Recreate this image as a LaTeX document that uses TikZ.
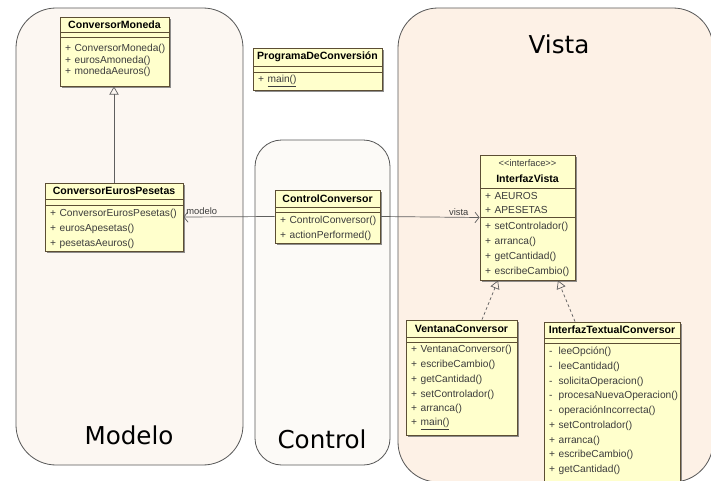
\documentclass[tikz,border=0pt]{standalone}
\usepackage{fontspec}
\setmainfont{Liberation Sans}
\newfontfamily\panelfont{DejaVu Sans}
\usetikzlibrary{arrows.meta,fit,shadows,calc}

\definecolor{clsfill}{RGB}{255,255,204}
\definecolor{clsdraw}{RGB}{92,78,52}
\definecolor{optext}{RGB}{60,60,60}
\definecolor{modfill}{RGB}{252,247,242}
\definecolor{ctlfill}{RGB}{252,250,247}
\definecolor{visfill}{RGB}{253,241,230}
\definecolor{lnk}{RGB}{95,95,95}

\tikzset{
  panel/.style={draw=black!65, line width=0.7pt},
  panellbl/.style={font=\panelfont\fontsize{21}{25}\selectfont, inner sep=0pt},
  cls/.style={draw=clsdraw, fill=clsfill, line width=0.8pt, inner sep=0pt,
    drop shadow={shadow xshift=1.8pt, shadow yshift=-1.8pt, fill=black!55, opacity=0.8}},
  clsline/.style={draw=clsdraw, line width=0.6pt},
  clsname/.style={font=\fontsize{9}{10}\selectfont\bfseries, inner sep=0pt},
  stereo/.style={font=\fontsize{8}{9}\selectfont, text=optext, inner sep=0pt},
  op/.style={font=\fontsize{8.7}{10}\selectfont, text=optext, anchor=west, inner sep=0pt},
  gen/.style={draw=lnk, line width=0.6pt, -{Triangle[open, length=7pt, width=8pt]}},
  real/.style={gen, dash pattern=on 2.5pt off 2pt},
  assoc/.style={draw=lnk, line width=0.6pt, -{Straight Barb[length=3.5pt, width=9pt]}},
  role/.style={font=\fontsize{8}{9}\selectfont, text=optext, inner sep=1.5pt},
}

\begin{document}
\begin{tikzpicture}[x=0.03cm, y=-0.03cm]
  \def\pubm{\makebox[8pt][l]{+}}
  \def\privm{\makebox[8pt][l]{-}}
  \useasboundingbox (0,0) rectangle (711,480);
  % paquetes
  \filldraw[panel, fill=modfill, rounded corners=1.2cm] (16,8) rectangle (243,465);
  \filldraw[panel, fill=ctlfill, rounded corners=0.8cm] (255,140) rectangle (390,465);
  \filldraw[panel, fill=visfill, rounded corners=1.2cm] (398,8) rectangle (713,482);
  \node[panellbl] (tmod) at (129,435) {Modelo};
  \node[panellbl] (tctl) at (322,439) {Control};
  \node[panellbl] (tvis) at (559,44) {Vista};

  % ConversorMoneda
  \node[cls, fit={(60,17) (169,86)}] (moneda) {};
  \draw[clsline] (60,32) -- (169,32) (60,37) -- (169,37);
  \node[clsname] (moneda-n) at (114.5,24.5) {ConversorMoneda};
  \foreach \m [count=\i] in {ConversorMoneda(), eurosAmoneda(), monedaAeuros()}
    \node[op] (moneda-\i) at (65,37+11.7*\i) {\pubm\m};

  % ProgramaDeConversión
  \node[cls, fit={(253,48) (382,90)}] (programa) {};
  \draw[clsline] (253,66) -- (382,66) (253,72) -- (382,72);
  \node[clsname] (programa-n) at (317.5,57) {ProgramaDeConversión};
  \node[op] (programa-1) at (258,81.5) {\pubm\underline{main()}};

  % ConversorEurosPesetas
  \node[cls, fit={(45,183) (183,251)}] (euros) {};
  \draw[clsline] (45,199) -- (183,199) (45,205) -- (183,205);
  \node[clsname] (euros-n) at (114,191) {ConversorEurosPesetas};
  \foreach \m [count=\i] in {ConversorEurosPesetas(), eurosApesetas(), pesetasAeuros()}
    \node[op] (euros-\i) at (50,199+14.8*\i) {\pubm\m};

  % ControlConversor
  \node[cls, fit={(275,190) (380,243)}] (ctrl) {};
  \draw[clsline] (275,207) -- (380,207) (275,212) -- (380,212);
  \node[clsname] (ctrl-n) at (327.5,198.5) {ControlConversor};
  \foreach \m [count=\i] in {ControlConversor(), actionPerformed()}
    \node[op] (ctrl-\i) at (280,206+15*\i) {\pubm\m};

  % InterfazVista
  \node[cls, fit={(480,155) (575,280)}] (vista) {};
  \draw[clsline] (480,188) -- (575,188) (480,217) -- (575,217);
  \node[stereo] (vista-s) at (527.5,163) {<\kern0pt<interface>\kern0pt>};
  \node[clsname] (vista-n) at (527.5,179) {InterfazVista};
  \node[op] (vista-a1) at (485,196) {\pubm AEUROS};
  \node[op] (vista-a2) at (485,210) {\pubm APESETAS};
  \foreach \m [count=\i] in {setControlador(), arranca(), getCantidad(), escribeCambio()}
    \node[op] (vista-\i) at (485,212+15*\i) {\pubm\m};

  % VentanaConversor
  \node[cls, fit={(406,320) (517,435)}] (ventana) {};
  \draw[clsline] (406,337) -- (517,337) (406,342) -- (517,342);
  \node[clsname] (ventana-n) at (461.5,328.5) {VentanaConversor};
  \foreach \m [count=\i] in {VentanaConversor(), escribeCambio(), getCantidad(),
      setControlador(), arranca(), {\underline{main()}}}
    \node[op] (ventana-\i) at (411,335.2+14.8*\i) {\pubm\m};

  % InterfazTextualConversor
  \node[cls, fit={(544,322) (680,486)}] (textual) {};
  \draw[clsline] (544,338) -- (680,338) (544,343) -- (680,343);
  \node[clsname] (textual-n) at (612,330) {InterfazTextualConversor};
  \foreach \m [count=\i] in {leeOpción(), leeCantidad(), solicitaOperacion(),
      procesaNuevaOperacion(), operaciónIncorrecta()}
    \node[op] (textual-\i) at (549,337.25+14.75*\i) {\privm\m};
  \foreach \m [count=\i from 6] in {setControlador(), arranca(), escribeCambio(), getCantidad()}
    \node[op] (textual-\i) at (549,337.25+14.75*\i) {\pubm\m};

  % relaciones
  \draw[gen] (euros.north) -- (euros.north |- moneda.south);
  \draw[assoc] (ctrl.west) -- node[role, pos=0.8, above] (lmodelo) {modelo} (euros.east);
  \draw[assoc] (ctrl.east) -- node[role, pos=0.79, above] (lvista) {vista} (vista.west);
  \draw[real] ($(ventana.north)+(20.5,0)$) -- ($(vista.south)+(-29.5,0)$);
  \draw[real] ($(textual.north)+(-37,0)$) -- ($(vista.south)+(30.5,0)$);
\end{tikzpicture}
\end{document}
